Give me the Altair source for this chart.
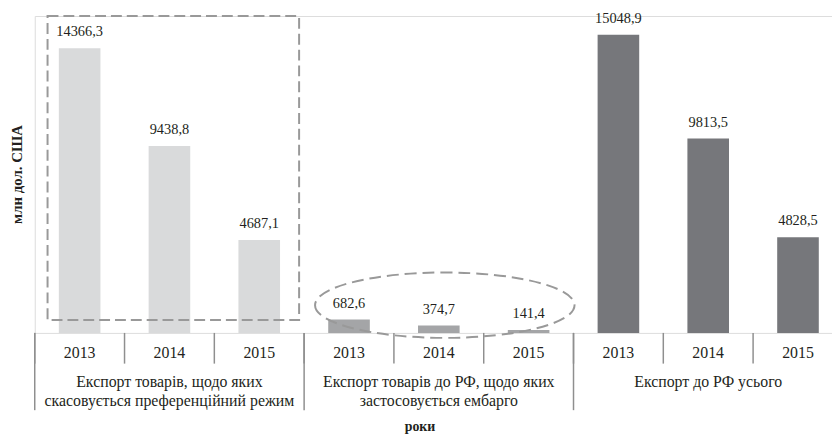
import altair as alt
import pandas as pd

# ---------------- data ----------------
years = ["2013", "2014", "2015"]
group_keys = ["g1", "g2", "g3"]
group_names = [
    "Експорт товарів, щодо яких\nскасовується преференційний режим",
    "Експорт товарів до РФ, щодо яких\nзастосовується ембарго",
    "Експорт до РФ усього",
]
values_preferential = [14366.3, 9438.8, 4687.1]
values_embargo = [682.6, 374.7, 141.4]
values_total = [15048.9, 9813.5, 4828.5]
value_lists = [values_preferential, values_embargo, values_total]
x_title = "роки"
y_title = "млн дол. США"

# ---------------- styles ----------------
bar_colors = ["#d9dadb", "#a4a5a7", "#76777b"]
FONT = "'Liberation Serif', 'Times New Roman', 'DejaVu Serif', serif"
TEXT = "#231f20"
LINE = "#8f8f8f"
DASH = "#999999"

rows = []
for gk, vals in zip(group_keys, value_lists):
    for yr, v in zip(years, vals):
        rows.append({"cat": f"{gk}|{yr}", "group": gk, "year": yr, "value": v,
                     "label": f"{v:.1f}".replace(".", ",")})
df = pd.DataFrame(rows)
cats = list(df["cat"])

groups_df = pd.DataFrame({
    "cat": [f"{g}|{years[1]}" for g in group_keys],
    "first": [f"{g}|{years[0]}" for g in group_keys],
    "name": group_names,
})

x_scale = alt.Scale(domain=cats, range=[0, 816], paddingInner=0, paddingOuter=0)
y_scale = alt.Scale(domain=[0, 16000], nice=False)

x_axis = alt.Axis(labels=False, ticks=False, domainColor=LINE, domainWidth=1.5,
                  grid=False, title=None)
y_axis = alt.Axis(labels=False, values=list(range(0, 16001, 2000)), tickSize=5,
                  tickColor=LINE, tickWidth=1.5, domainColor=LINE, domainWidth=1.5,
                  grid=False, title=None)

X = lambda f, **kw: alt.X(f, scale=x_scale, sort=cats, axis=None, **kw)

bars = alt.Chart(df).mark_bar(size=42).encode(
    x=alt.X("cat:N", scale=x_scale, sort=cats, axis=x_axis),
    y=alt.Y("value:Q", scale=y_scale, axis=y_axis),
    color=alt.Color("group:N", scale=alt.Scale(domain=group_keys, range=bar_colors), legend=None),
)

value_labels = alt.Chart(df).mark_text(
    dy=-12, baseline="alphabetic", font=FONT, fontSize=14.5, color=TEXT
).encode(
    x=X("cat:N"),
    y=alt.Y("value:Q", scale=y_scale, axis=None),
    text="label:N",
)

year_labels = alt.Chart(df).mark_text(
    baseline="alphabetic", font=FONT, fontSize=16, color=TEXT
).encode(x=X("cat:N"), y=alt.value(345), text="year:N")

year_seps = alt.Chart(df).mark_rule(color=LINE, strokeWidth=1.5).encode(
    x=X("cat:N", bandPosition=0), y=alt.value(320), y2=alt.value(351),
)

group_seps = alt.Chart(groups_df).mark_rule(color=LINE, strokeWidth=1.5).encode(
    x=X("first:N", bandPosition=0), y=alt.value(320), y2=alt.value(398),
)

group_labels = alt.Chart(groups_df).mark_text(
    lineBreak="\n", baseline="alphabetic", lineHeight=19, font=FONT,
    fontSize=16, color=TEXT, align="center"
).encode(x=X("cat:N"), y=alt.value(375), text="name:N")

titles_df = pd.DataFrame({"t": [x_title]})
x_title_mark = alt.Chart(titles_df).mark_text(
    baseline="alphabetic", font=FONT, fontSize=14, fontWeight="bold", color=TEXT
).encode(x=alt.value(389), y=alt.value(419), text="t:N")

y_title_df = pd.DataFrame({"t": [y_title]})
y_title_mark = alt.Chart(y_title_df).mark_text(
    baseline="alphabetic", font=FONT, fontSize=15, fontWeight="bold", color=TEXT,
    angle=270
).encode(x=alt.value(-13), y=alt.value(160), text="t:N")

# dashed rectangle around the first group (custom symbol, centred on 2014 band)
rect_df = pd.DataFrame({"cat": [f"{group_keys[0]}|{years[1]}"], "yc": [8325]})
rect_path = "M -0.969 -1.209 L 1.031 -1.209 L 1.031 1.209 L -0.969 1.209 Z"
rect_ann = alt.Chart(rect_df).mark_point(
    shape=rect_path, size=254 * 254, filled=False, stroke=DASH, strokeWidth=2,
    strokeDash=[11, 5], opacity=1
).encode(x=X("cat:N"), y=alt.Y("yc:Q", scale=y_scale, axis=None))

# dashed ellipse around the second group
ell_df = pd.DataFrame({"cat": [f"{group_keys[1]}|{years[1]}"], "yc": [1400]})
ell_path = "M -0.954 0 A 1 0.252 0 1 0 1.046 0 A 1 0.252 0 1 0 -0.954 0 Z"
ell_ann = alt.Chart(ell_df).mark_point(
    shape=ell_path, size=262 * 262, filled=False, stroke=DASH, strokeWidth=2,
    strokeDash=[12, 6], opacity=1
).encode(x=X("cat:N"), y=alt.Y("yc:Q", scale=y_scale, axis=None))

chart = alt.layer(
    bars, value_labels, year_labels, year_seps, group_seps, group_labels,
    x_title_mark, y_title_mark, rect_ann, ell_ann
).properties(
    width=805, height=320,
    autosize=alt.AutoSizeParams(type="none"),
    padding={"left": 27, "top": 6, "right": 0, "bottom": 102},
).configure_view(strokeWidth=0).configure(background="white")

chart.save("out.html", embed_options={"renderer": "svg", "actions": False})
